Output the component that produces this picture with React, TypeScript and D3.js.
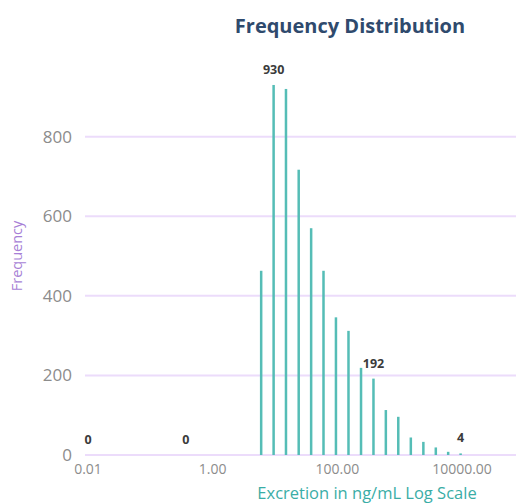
import React from 'react';
import * as d3 from 'd3';

// bin centres (ng/mL) and counts
const binValues = [0.01, 0.37, 6.0, 9.5, 15, 24, 38, 60, 95, 151, 240, 380, 600, 950, 1510, 2400, 3800, 6000, 9500];
const counts = [0, 0, 463, 930, 920, 717, 570, 463, 346, 312, 219, 192, 113, 96, 44, 33, 19, 8, 4];
const labelledBins = [0, 1, 3, 11, 18];
const yTicks = [0, 200, 400, 600, 800];
const xTicks = [0.01, 1, 100, 10000];

export default function App() {
    const width = 516;
    const height = 503;

    const xScale = d3.scaleLog().domain([0.01, 10000]).range([88, 462]);
    const yScale = d3.scaleLinear().domain([0, 800]).range([455, 136.7]);

    const font = '"Open Sans", "DejaVu Sans", sans-serif';

    return (
        <svg width={width} height={height} style={{ position: 'absolute', left: 0, top: 0 }}>
            <text x={350} y={33} textAnchor="middle" fontFamily={font} fontWeight="bold" fontSize="20px" fill="#2f4a6d">
                Frequency Distribution
            </text>

            {/* gridlines + y labels */}
            {yTicks.map(t => (
                <g key={t}>
                    <line x1={85} x2={516} y1={yScale(t)} y2={yScale(t)} stroke="#ecdcfb" strokeWidth={2} />
                    <text x={72} y={yScale(t)} dy="0.35em" textAnchor="end" fontFamily={font} fontSize="17px" fill="#8c8c8c">
                        {t}
                    </text>
                </g>
            ))}

            <text transform="translate(22,256) rotate(-90)" textAnchor="middle" fontFamily={font} fontSize="14.5px" fill="#a77fd6">
                Frequency
            </text>

            {/* bars */}
            {binValues.map((v, i) => (
                counts[i] > 0 && (
                    <rect
                        key={v}
                        x={xScale(v) - 1.25}
                        y={yScale(counts[i])}
                        width={2.5}
                        height={yScale(0) - yScale(counts[i])}
                        fill="#55bdb6"
                    />
                )
            ))}

            {/* data labels */}
            {labelledBins.map(i => (
                <text
                    key={i}
                    x={xScale(binValues[i])}
                    y={yScale(counts[i]) - 11}
                    textAnchor="middle"
                    fontFamily={font}
                    fontWeight="bold"
                    fontSize="12.5px"
                    fill="#3b3b3b"
                >
                    {counts[i]}
                </text>
            ))}

            {/* x tick labels */}
            {xTicks.map(t => (
                <text key={t} x={xScale(t)} y={474} textAnchor="middle" fontFamily={font} fontSize="14px" fill="#8c8c8c">
                    {t.toFixed(2)}
                </text>
            ))}

            <text x={367} y={499} textAnchor="middle" fontFamily={font} fontSize="16.5px" fill="#3aada6">
                Excretion in ng/mL Log Scale
            </text>
        </svg>
    );
}
